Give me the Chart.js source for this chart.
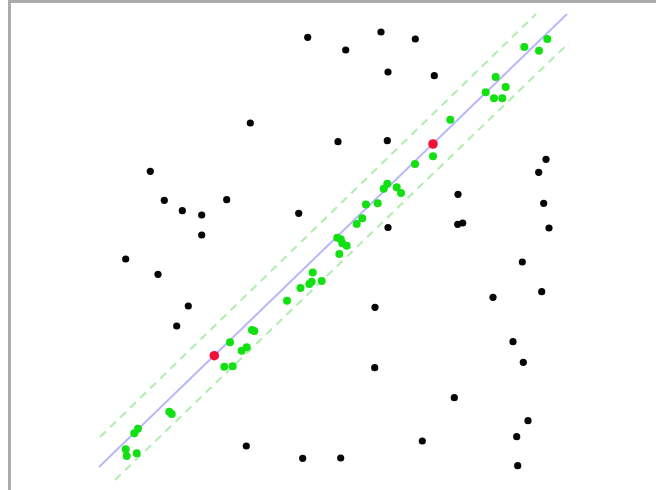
<!DOCTYPE html>
<html>
<head>
<meta charset="utf-8">
<script src="https://cdn.jsdelivr.net/npm/chart.js@4/dist/chart.umd.min.js"></script>
<style>
  html, body { margin: 0; padding: 0; background: #fff; }
  #wrap { position: relative; width: 656px; height: 490px; overflow: hidden; }
  #frame { position: absolute; left: 8px; top: 0; right: -10px; bottom: -10px;
           border-left: 3px solid #ababab; border-top: 3px solid #ababab; pointer-events: none; }
</style>
</head>
<body>
<div id="wrap">
  <canvas id="c" width="656" height="490"></canvas>
  <div id="frame"></div>
</div>
<script>
// Outliers (black)
const outlierX = [307.7,345.7,381,415.3,388,434.3,250.3,338,387.3,546,538.7,150.3,164.3,182.3,201.7,226.7,298.7,201.7,458,543.7,388,457.7,462.7,549,125.7,158,522.3,188.3,375,493,541.7,176.7,513,523.3,374.7,454.3,528,516.7,422.3,246.3,517.7,302.7,340.7];
const outlierY = [452.7,440,458,451,418,414.3,367,348.3,349.3,330.7,317.7,318.7,289.7,279.3,275,290.3,276.7,255,295.7,286.7,262.5,265.7,267,262,231,215.7,228,184,182.7,192.7,198.3,164,148.3,127.7,122.3,92.3,69.3,53.3,49,44,24.3,31.7,32];
// Inliers (green)
const inlierX = [547.3,524.3,539,495.7,505.7,485.7,494,502.3,450.3,433,415,387.3,383.7,396.7,401,366,377.7,362.3,356.7,337.3,340.7,342.3,346.7,339.3,312.7,309.3,311.7,321.7,300.5,287,252,254.3,230,241.7,246.7,224.3,232.7,169.3,171.7,134.3,138,125.7,126.7,136.7];
const inlierY = [451,443,439.3,413,403,397.7,391.7,391.7,370.3,333.7,326,306.3,301.3,302.7,297,285.5,286.7,271.7,266,252.3,250.7,246.7,244.3,236,217.5,206,208.3,209,202,189.3,160,159,147.7,139.3,142.7,123.3,123.7,78.3,76,56.7,61.3,40.7,34,36.7];
// Sample points (red)
const sampleX = [214.3,433];
const sampleY = [134.3,346];
// Fitted line and threshold band endpoints
const fitX = [99,567];
const fitY = [23,476];
const upperX = [100,536];
const upperY = [53,476];
const lowerX = [115,569];
const lowerY = [10,447.3];

const pts = (xs, ys) => xs.map((x, i) => ({x: x, y: ys[i]}));

new Chart(document.getElementById('c'), {
  type: 'scatter',
  data: {
    datasets: [
      { type: 'line', data: pts(upperX, upperY), borderColor: '#aeeeae', borderWidth: 2,
        borderDash: [8, 6], pointRadius: 0, fill: false, order: 10 },
      { type: 'line', data: pts(lowerX, lowerY), borderColor: '#aeeeae', borderWidth: 2,
        borderDash: [8, 6], pointRadius: 0, fill: false, order: 10 },
      { type: 'line', data: pts(fitX, fitY), borderColor: '#b8b8fa', borderWidth: 2,
        pointRadius: 0, fill: false, order: 9 },
      { data: pts(outlierX, outlierY), backgroundColor: '#050505', borderWidth: 0, pointRadius: 3.6, order: 3 },
      { data: pts(inlierX, inlierY), backgroundColor: '#12e012', borderWidth: 0, pointRadius: 4, order: 2 },
      { data: pts(sampleX, sampleY), backgroundColor: '#f0103a', borderWidth: 0, pointRadius: 4.8, order: 1 }
    ]
  },
  options: {
    responsive: false,
    animation: false,
    devicePixelRatio: 1,
    layout: { padding: 0, autoPadding: false },
    plugins: { legend: { display: false }, tooltip: { enabled: false } },
    scales: {
      x: { type: 'linear', min: 0, max: 656, display: false },
      y: { type: 'linear', min: 0, max: 490, display: false }
    }
  }
});
</script>
</body>
</html>
